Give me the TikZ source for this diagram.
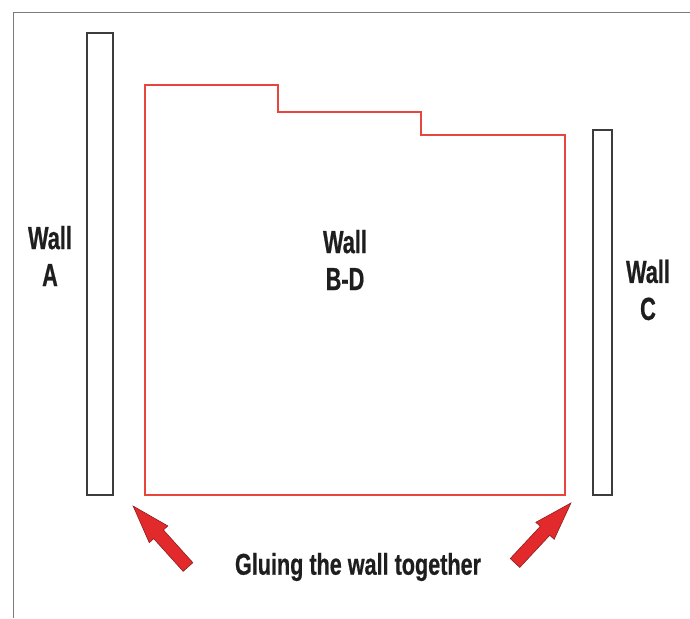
\documentclass[tikz,border=0pt]{standalone}
\usepackage{fontspec}
\newfontfamily\wallfont[FakeStretch=0.68, FakeBold=0.6]{Liberation Sans}
\newfontfamily\gluefont[FakeStretch=0.72, FakeBold=0.6]{Liberation Sans}
\usetikzlibrary{positioning}
\definecolor{wallgray}{HTML}{3C3C3C}
\definecolor{framegray}{HTML}{7A7A7A}
\definecolor{outlinered}{HTML}{E8453C}
\definecolor{arrowred}{HTML}{E2292B}
\definecolor{arrowedge}{HTML}{8E1E1E}
\definecolor{inkblack}{HTML}{1E1E1E}

\begin{document}
\begin{tikzpicture}[x=1pt, y=1pt,
   wall/.style={draw=wallgray, line width=1.1pt, inner sep=0pt, outer sep=0pt},
   lbl/.style={align=center, text=inkblack, font=\wallfont\bfseries\fontsize{32}{37}\selectfont},
   gluearrow/.style={fill=arrowred, draw=arrowedge, line width=0.6pt, line join=miter}]
  \useasboundingbox (0,0) rectangle (690,618);
  \draw[framegray, line width=0.9pt] (13,0) -- (13,606) -- (690,606);

  % side walls
  \node[wall, minimum width=26pt, minimum height=462pt] (wallA) at (100,354) {};
  \node[wall, minimum width=19pt, minimum height=365pt] (wallC) at (602.5,305.5) {};

  % wall B-D outline
  \draw[outlinered, line width=1.2pt] (145,123) -- (145,533) -- (278,533) -- (278,506)
     -- (421,506) -- (421,483) -- (565,483) -- (565,123) -- cycle;

  \node[lbl] (labA) at (50,362) {Wall\\A};
  \node[lbl] (labBD) at (345,358) {Wall\\B-D};
  \node[lbl] (labC) at (648,328) {Wall\\C};
  \node[lbl, font=\gluefont\bfseries\fontsize{30}{34}\selectfont] (glue) at (358,51) {Gluing the wall together};

  % arrows to the corners
  \filldraw[gluearrow, shift={(188,51)}, rotate=132] (0,-6.5) -- (44,-6.5) -- (44,-12.5) -- (82,0) -- (44,12.5) -- (44,6.5) -- (0,6.5) -- cycle;
  \filldraw[gluearrow, shift={(515,55)}, rotate=47] (0,-6.5) -- (44,-6.5) -- (44,-12.5) -- (82,0) -- (44,12.5) -- (44,6.5) -- (0,6.5) -- cycle;
\end{tikzpicture}
\end{document}
